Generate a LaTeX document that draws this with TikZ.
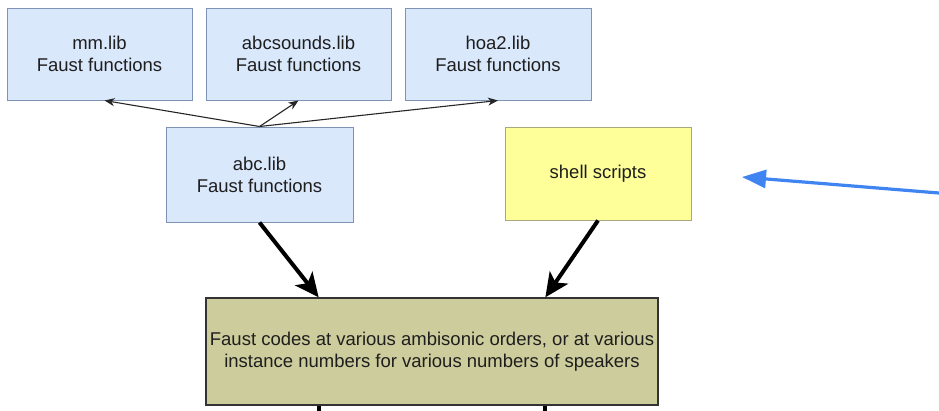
\documentclass[tikz,border=0pt]{standalone}
\usepackage{fontspec}
\setmainfont{Liberation Sans}
\usetikzlibrary{arrows.meta,calc}
\definecolor{libfill}{HTML}{DAE8FC}
\definecolor{libdraw}{HTML}{7F93B5}
\definecolor{notefill}{HTML}{FFFF99}
\definecolor{notedraw}{HTML}{A9A77E}
\definecolor{codefill}{HTML}{CDCC9C}
\definecolor{codedraw}{HTML}{333333}
\definecolor{txt}{HTML}{1E1E1E}
\definecolor{pointer}{HTML}{3F84F0}
\tikzset{
  box/.style={draw, line width=1pt, inner sep=0pt, align=center, text=txt,
    font=\fontsize{18.5}{22}\selectfont},
  libbox/.style={box, fill=libfill, draw=libdraw},
  notebox/.style={box, fill=notefill, draw=notedraw},
  codebox/.style={box, fill=codefill, draw=codedraw, line width=1.3pt},
  thin link/.style={-{Stealth[length=10pt,width=8pt,inset=3pt]}, line width=1.1pt, black!85},
  thick link/.style={-{Stealth[length=24pt,width=22pt,inset=6pt]}, line width=4pt, black},
  stub/.style={line width=4pt, black},
  pointer arrow/.style={-{Triangle[length=24pt,width=18pt]}, line width=3.2pt, pointer}
}
\begin{document}
\begin{tikzpicture}[x=1pt,y=1pt]
\useasboundingbox (0,0) rectangle (939,-410);

% library boxes
\node[libbox, minimum width=185pt, minimum height=92pt] (mm) at (99.5,-54) {mm.lib\\Faust functions};
\node[libbox, minimum width=185pt, minimum height=92pt] (snd) at (298.5,-54) {abcsounds.lib\\Faust functions};
\node[libbox, minimum width=186pt, minimum height=92pt] (hoa) at (498,-54) {hoa2.lib\\Faust functions};
\node[libbox, minimum width=187pt, minimum height=95pt] (abc) at (259.5,-174.5) {abc.lib\\Faust functions};

% generator scripts
\node[notebox, minimum width=186pt, minimum height=93pt] (sh) at (598,-173.5) {shell scripts};

% generated code
\node[codebox, minimum width=452pt, minimum height=107pt] (code) at (432,-351.5)
  {Faust codes at various ambisonic orders, or at various\\instance numbers for various numbers of speakers};

% dependencies of abc.lib
\draw[thin link] (abc.north) -- ([xshift=5pt]mm.south);
\draw[thin link] (abc.north) -- (snd.south);
\draw[thin link] (abc.north) -- (hoa.south);

% inputs to the generated code
\coordinate (inA) at ($(code.north west)!0.25!(code.north east)$);
\coordinate (inB) at ($(code.north west)!0.75!(code.north east)$);
\draw[thick link] (abc.south) -- (inA);
\draw[thick link] (sh.south) -- (inB);

% outputs leaving the picture downwards
\coordinate (outA) at ($(code.south west)!0.25!(code.south east)+(0,-12)$);
\coordinate (outB) at ($(code.south west)!0.75!(code.south east)+(0,-12)$);
\draw[stub] (code.south -| inA) -- (outA);
\draw[stub] (code.south -| inB) -- (outB);

% pointer
\coordinate (ptail) at (945,-193.5);
\coordinate (ptip) at (742,-177);
\draw[pointer arrow] (ptail) -- (ptip);
\end{tikzpicture}
\end{document}
